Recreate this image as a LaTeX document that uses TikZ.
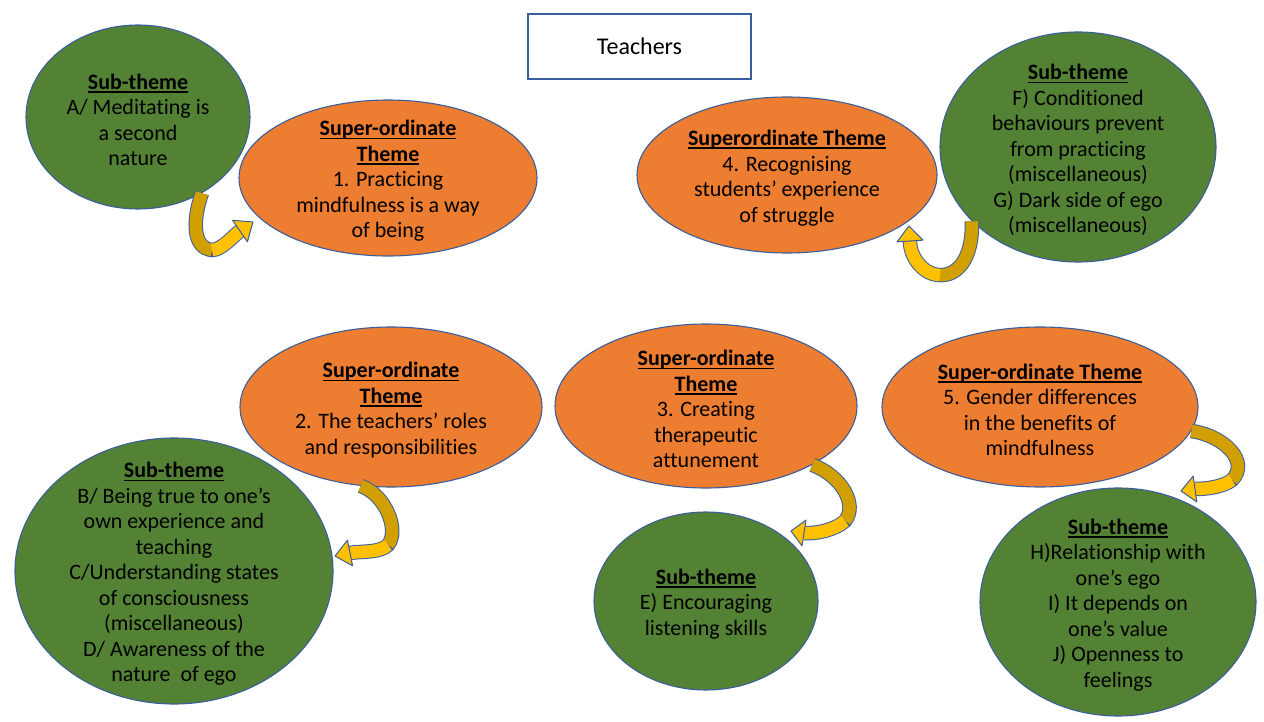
\documentclass[tikz,border=0pt]{standalone}
\usepackage{fontspec}
\setmainfont[Ligatures=NoCommon]{Carlito}
\usetikzlibrary{shapes.geometric,calc}

\definecolor{themeorange}{HTML}{ED7D31}
\definecolor{themegreen}{HTML}{548235}
\definecolor{shapeline}{HTML}{3A5E9C}
\definecolor{arrowlight}{HTML}{FFC000}
\definecolor{arrowdark}{HTML}{D1A000}

% bold heading with a plain underline
\newsavebox\ulbox
\newcommand\headul[1]{\sbox\ulbox{\bfseries #1}\rlap{\rule[-0.16em]{\wd\ulbox}{0.075em}}\usebox\ulbox}

\begin{document}
\begin{tikzpicture}[x=1pt,y=-1pt,
  shapebase/.style={ellipse,draw=shapeline,line width=1.1pt,inner sep=0pt},
  supertheme/.style={shapebase,fill=themeorange},
  subtheme/.style={shapebase,fill=themegreen},
  words/.style={align=center,inner sep=0pt,text=black,font=\fontsize{22}{25.5}\selectfont},
  inwords/.style={words,yshift=-3pt},
  bandedge/.style={draw=shapeline,line width=14.5pt},
  darkband/.style={draw=arrowdark,line width=12.5pt},
  lightband/.style={draw=arrowlight,line width=12.5pt},
  arrowhead/.style={fill=arrowlight,draw=shapeline,line width=1pt,line join=round}]

\useasboundingbox (0,0) rectangle (1264,722);
\fill[white] (0,0) rectangle (1264,722);

% title box
\node[draw=shapeline,line width=1.3pt,fill=white,minimum width=223pt,minimum height=65pt,
      words,font=\fontsize{24}{28}\selectfont] (teachers) at (639.5,46.5) {Teachers};

% top row
\node[subtheme,minimum width=224pt,minimum height=184pt,
      label={[inwords]center:{\headul{Sub-theme}\\A/ Meditating is\\a second\\nature}}]
      (subA) at (138,117) {};
\node[supertheme,minimum width=298pt,minimum height=156pt,
      label={[inwords]center:{\headul{Super-ordinate}\\\headul{Theme}\\1. Practicing\\mindfulness is a way\\of being}}]
      (sup1) at (388,178) {};
\node[supertheme,minimum width=300pt,minimum height=156pt,
      label={[inwords]center:{\headul{Superordinate Theme}\\4. Recognising\\students’ experience\\of struggle}}]
      (sup4) at (787,175) {};
\node[subtheme,minimum width=276pt,minimum height=230pt,
      label={[inwords]center:{\headul{Sub-theme}\\F) Conditioned\\behaviours prevent\\from practicing\\(miscellaneous)\\G) Dark side of ego\\(miscellaneous)}}]
      (subFG) at (1078,147) {};

% lower rows
\node[subtheme,minimum width=318pt,minimum height=266pt,
      label={[inwords]center:{\headul{Sub-theme}\\B/ Being true to one’s\\own experience and\\teaching\\C/Understanding states\\of consciousness\\(miscellaneous)\\D/ Awareness of the\\nature\ \ of ego}}]
      (subBCD) at (174,571) {};
\node[supertheme,minimum width=302pt,minimum height=160pt,
      label={[inwords]center:{\headul{Super-ordinate}\\\headul{Theme}\\2. The teachers’ roles\\and responsibilities}}]
      (sup2) at (391,407) {};
\node[supertheme,minimum width=302pt,minimum height=164pt,
      label={[inwords]center:{\headul{Super-ordinate}\\\headul{Theme}\\3. Creating\\therapeutic\\attunement}}]
      (sup3) at (706,406) {};
\node[supertheme,minimum width=316pt,minimum height=160pt,
      label={[inwords]center:{\headul{Super-ordinate Theme}\\5. Gender differences\\in the benefits of\\mindfulness}}]
      (sup5) at (1040,407) {};
\node[subtheme,minimum width=224pt,minimum height=178pt,
      label={[inwords]center:{\headul{Sub-theme}\\E) Encouraging\\listening skills}}]
      (subE) at (706,601) {};
\node[subtheme,minimum width=276pt,minimum height=228pt,
      label={[inwords]center:{\headul{Sub-theme}\\H)Relationship with\\one’s ego\\I) It depends on\\one’s value\\J) Openness to\\feelings}}]
      (subHIJ) at (1118,602) {};

% curved arrows: darker back band, lighter front band, then the head
% A -> 1
\coordinate (m1) at (212,250);
\coordinate (b1) at (240,231);
\coordinate (t1) at (253,222);
\draw[bandedge] (subA.-50) .. controls (192,222) and (193,248) .. (m1) .. controls (222,250) and (234,235) .. (b1);
\draw[darkband] (subA.-50) .. controls (192,222) and (193,248) .. (m1);
\draw[lightband] (m1) .. controls (222,250) and (234,235) .. (b1);
\filldraw[arrowhead] (t1) -- ($(b1)!13pt!90:(t1)$) -- ($(b1)!13pt!-90:(t1)$) -- cycle;

% F/G -> 4
\coordinate (m2) at (940,275);
\coordinate (b2) at (910,241);
\coordinate (t2) at (909,226);
\draw[bandedge] (subFG.215) .. controls (973,262) and (955,276) .. (m2) .. controls (924,275) and (910,258) .. (b2);
\draw[darkband] (subFG.215) .. controls (973,262) and (955,276) .. (m2);
\draw[lightband] (m2) .. controls (924,275) and (910,258) .. (b2);
\filldraw[arrowhead] (t2) -- ($(b2)!13pt!90:(t2)$) -- ($(b2)!13pt!-90:(t2)$) -- cycle;

% 2 -> B/C/D
\coordinate (m3) at (388,545);
\coordinate (b3) at (350,553);
\coordinate (t3) at (335,556);
\draw[bandedge] (sup2.249) .. controls (385,494) and (400,530) .. (m3) .. controls (380,553) and (362,551) .. (b3);
\draw[darkband] (sup2.249) .. controls (385,494) and (400,530) .. (m3);
\draw[lightband] (m3) .. controls (380,553) and (362,551) .. (b3);
\filldraw[arrowhead] (t3) -- ($(b3)!13pt!90:(t3)$) -- ($(b3)!13pt!-90:(t3)$) -- cycle;

% 3 -> E
\coordinate (m4) at (845,521);
\coordinate (b4) at (804,533);
\coordinate (t4) at (791,531);
\draw[bandedge] (sup3.-29) .. controls (842,476) and (858,505) .. (m4) .. controls (835,530) and (816,534) .. (b4);
\draw[darkband] (sup3.-29) .. controls (842,476) and (858,505) .. (m4);
\draw[lightband] (m4) .. controls (835,530) and (816,534) .. (b4);
\filldraw[arrowhead] (t4) -- ($(b4)!13pt!90:(t4)$) -- ($(b4)!13pt!-90:(t4)$) -- cycle;

% 5 -> H/I/J
\coordinate (m5) at (1232,480);
\coordinate (b5) at (1195,489);
\coordinate (t5) at (1181,491);
\draw[bandedge] (sup5.-9) .. controls (1225,436) and (1250,462) .. (m5) .. controls (1223,487) and (1206,489) .. (b5);
\draw[darkband] (sup5.-9) .. controls (1225,436) and (1250,462) .. (m5);
\draw[lightband] (m5) .. controls (1223,487) and (1206,489) .. (b5);
\filldraw[arrowhead] (t5) -- ($(b5)!13pt!90:(t5)$) -- ($(b5)!13pt!-90:(t5)$) -- cycle;

\end{tikzpicture}
\end{document}
